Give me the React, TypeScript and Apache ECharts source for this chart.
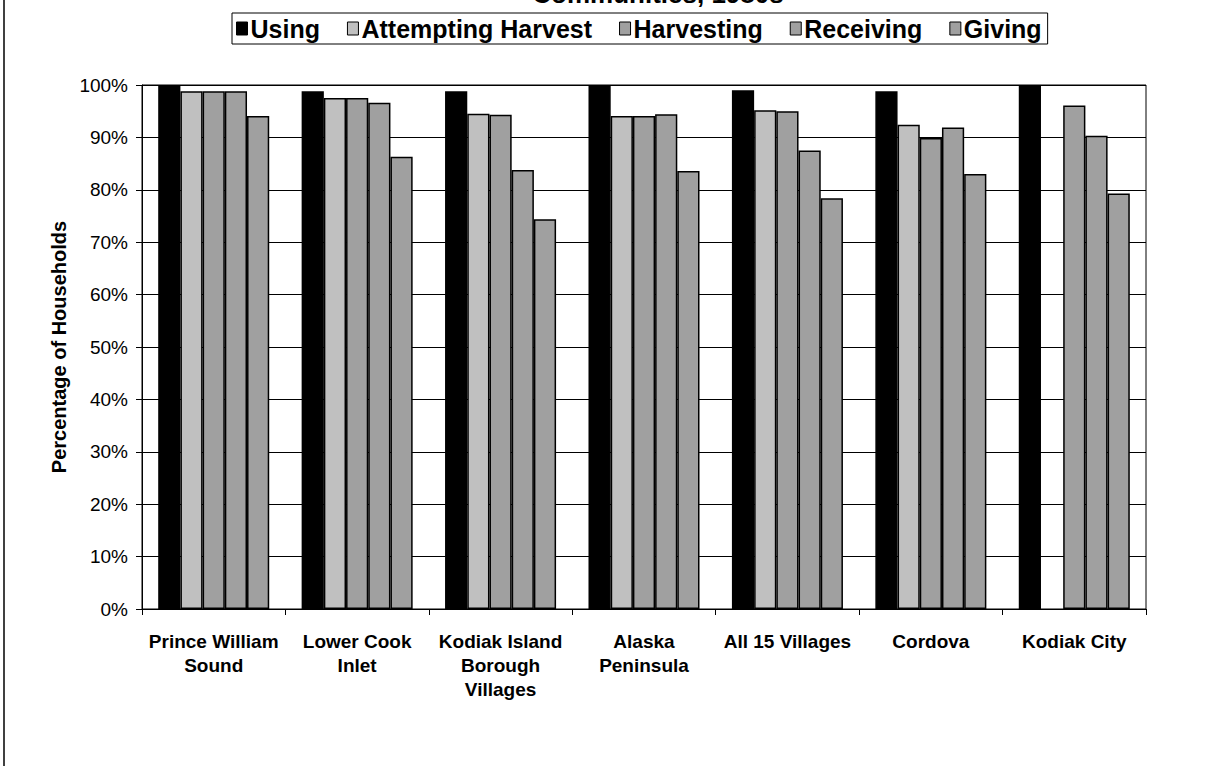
import React, { useEffect, useRef } from "react";
import * as echarts from "echarts";

const categories = [
  "Prince William\nSound",
  "Lower Cook\nInlet",
  "Kodiak Island\nBorough\nVillages",
  "Alaska\nPeninsula",
  "All 15 Villages",
  "Cordova",
  "Kodiak City",
];
const seriesNames = ["Using", "Attempting Harvest", "Harvesting", "Receiving", "Giving"];
const usingVals = [100, 98.8, 98.8, 100, 99.0, 98.8, 100];
const attemptingVals = [98.8, 97.5, 94.5, 94.1, 95.2, 92.4, null];
const harvestingVals = [98.8, 97.5, 94.3, 94.1, 95.0, 89.9, 96.1];
const receivingVals = [98.8, 96.6, 83.8, 94.4, 87.5, 91.9, 90.3];
const givingVals = [94.1, 86.3, 74.4, 83.6, 78.4, 83.0, 79.3];
const colors = ["#000000", "#c0c0c0", "#a0a0a0", "#a0a0a0", "#a0a0a0"];
const titleText = "Communities, 1980s";
const yAxisName = "Percentage of Households";

const FONT = "Arial, 'Liberation Sans', Helvetica, sans-serif";

export default function App() {
  const ref = useRef<HTMLDivElement>(null);
  useEffect(() => {
    if (!ref.current) return;
    const chart = echarts.init(ref.current, null, { renderer: "svg" });
    const allVals = [usingVals, attemptingVals, harvestingVals, receivingVals, givingVals];
    chart.setOption({
      animation: false,
      backgroundColor: "#ffffff",
      textStyle: { fontFamily: FONT },
      title: {
        text: titleText,
        left: 653,
        textAlign: "center",
        top: -24,
        textStyle: { fontSize: 26, fontWeight: "bold", color: "#000", fontFamily: FONT },
      },
      legend: {
        data: seriesNames,
        left: 232,
        top: 13,
        padding: [3, 6, 3, 4],
        borderColor: "#000",
        borderWidth: 1,
        itemGap: 27,
        itemWidth: 11,
        itemHeight: 13,
        icon: "rect",
        itemStyle: { borderColor: "#000", borderWidth: 1 },
        textStyle: {
          fontSize: 25,
          lineHeight: 25,
          fontWeight: "bold",
          color: "#000",
          fontFamily: FONT,
          padding: [0, 0, 0, -2],
        },
      },
      grid: {
        left: 142,
        right: 84,
        top: 85,
        bottom: 157,
        show: true,
        borderColor: "#000",
        borderWidth: 1,
        containLabel: false,
      },
      xAxis: {
        type: "category",
        data: categories,
        axisLine: { lineStyle: { color: "#000", width: 1 } },
        axisTick: { show: true, length: 6, lineStyle: { color: "#000" } },
        axisLabel: {
          interval: 0,
          margin: 20,
          fontSize: 19,
          fontWeight: "bold",
          color: "#000",
          lineHeight: 24,
          fontFamily: FONT,
        },
      },
      yAxis: {
        type: "value",
        min: 0,
        max: 100,
        interval: 10,
        name: yAxisName,
        nameLocation: "middle",
        nameGap: 70,
        nameRotate: 90,
        nameTextStyle: { fontSize: 20, fontWeight: "bold", color: "#000", fontFamily: FONT },
        axisLine: { show: true, lineStyle: { color: "#000" } },
        axisTick: { show: true, length: 6, lineStyle: { color: "#000" } },
        axisLabel: { formatter: "{value}%", fontSize: 19, color: "#000", margin: 14, fontFamily: FONT },
        splitLine: { show: true, lineStyle: { color: "#000", width: 1 } },
      },
      graphic: [
        {
          type: "line",
          shape: { x1: 4, y1: 0, x2: 4, y2: 766 },
          style: { stroke: "#000", lineWidth: 1.5 },
        },
      ],
      series: seriesNames.map((name, i) => ({
        name,
        type: "bar",
        data: allVals[i],
        barGap: "0%",
        barCategoryGap: "22.6%",
        itemStyle: { color: colors[i], borderColor: "#000", borderWidth: 1.5 },
      })),
    });
    return () => chart.dispose();
  }, []);
  return (
    <div
      ref={ref}
      style={{ position: "absolute", left: 0, top: 0, width: 1230, height: 766 }}
    />
  );
}
